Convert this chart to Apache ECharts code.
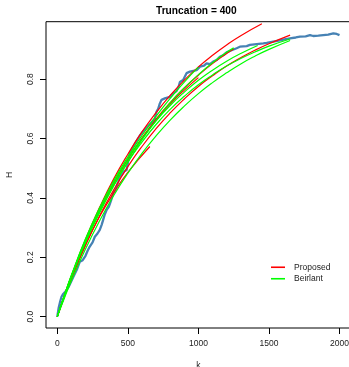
<!DOCTYPE html>
<html>
<head>
<meta charset="utf-8">
<script src="https://cdn.jsdelivr.net/npm/echarts@6/dist/echarts.min.js"></script>
<style>html,body{margin:0;padding:0;background:#fff}#c{width:349px;height:367px}</style>
</head>
<body>
<div id="c"></div>
<script>
const xTicks = [0, 500, 1000, 1500, 2000];
const yTicks = [0, 0.2, 0.4, 0.6, 0.8];

// Empirical estimate (blue)
const empirical = [[0,0],[10,0.03],[20,0.05],[30,0.067],[40,0.075],[60,0.085],[80,0.1],[100,0.12],[120,0.14],[140,0.16],[160,0.185],[180,0.19],[200,0.205],[215,0.222],[230,0.236],[250,0.25],[266,0.269],[285,0.28],[301,0.292],[315,0.31],[325,0.326],[337,0.345],[350,0.36],[365,0.37],[380,0.39],[396,0.415],[410,0.425],[420,0.438],[432,0.455],[443,0.471],[460,0.48],[475,0.49],[491,0.494],[505,0.53],[514,0.55],[538,0.572],[560,0.59],[585,0.61],[610,0.625],[640,0.64],[670,0.655],[690,0.665],[703,0.69],[715,0.7],[727,0.718],[739,0.73],[762,0.735],[774,0.732],[798,0.74],[821,0.752],[845,0.76],[860,0.775],[869,0.79],[892,0.797],[916,0.82],[940,0.825],[965,0.828],[987,0.83],[1011,0.842],[1040,0.845],[1058,0.853],[1082,0.85],[1105,0.859],[1129,0.864],[1152,0.875],[1175,0.88],[1200,0.89],[1235,0.897],[1271,0.904],[1294,0.909],[1342,0.911],[1365,0.915],[1413,0.918],[1460,0.92],[1484,0.922],[1530,0.926],[1578,0.93],[1610,0.934],[1649,0.937],[1690,0.94],[1720,0.943],[1760,0.944],[1791,0.948],[1814,0.945],[1850,0.946],[1885,0.948],[1920,0.95],[1956,0.954],[1980,0.952],[2000,0.948]];

// Proposed (red) curves
const proposed1 = [[0,0],[50,0.071],[100,0.138],[200,0.261],[300,0.368],[400,0.464],[500,0.547],[600,0.622],[700,0.687],[800,0.745],[900,0.796],[1000,0.841],[1100,0.88],[1200,0.915],[1300,0.946],[1450,0.986]];
const proposed2 = [[0,0],[50,0.069],[100,0.134],[200,0.252],[300,0.356],[400,0.449],[500,0.53],[600,0.601],[700,0.665],[800,0.721],[900,0.77],[1000,0.813],[1100,0.852],[1200,0.886],[1250,0.901]];
const proposed3 = [[0,0],[50,0.066],[100,0.128],[200,0.24],[300,0.34],[400,0.427],[500,0.505],[600,0.573],[700,0.633],[800,0.686],[900,0.733],[1000,0.775],[1100,0.811],[1200,0.844],[1300,0.872],[1400,0.897],[1500,0.919],[1650,0.948]];
const proposed4 = [[0,0],[50,0.068],[100,0.131],[200,0.242],[300,0.337],[400,0.417],[500,0.486],[656,0.573]];
const proposed5 = [[0,0],[50,0.07],[100,0.136],[200,0.255],[300,0.359],[400,0.45],[500,0.53],[600,0.6],[700,0.662],[800,0.716],[900,0.763],[1000,0.805]];

// Beirlant (green) curves
const beirlant1 = [[0,0],[50,0.062],[100,0.121],[200,0.228],[300,0.323],[400,0.408],[500,0.483],[600,0.55],[700,0.609],[800,0.662],[900,0.709],[1000,0.751],[1100,0.788],[1200,0.821],[1300,0.851],[1400,0.877],[1500,0.9],[1650,0.93]];
const beirlant2 = [[0,0],[50,0.07],[100,0.135],[200,0.252],[300,0.354],[400,0.443],[500,0.521],[600,0.588],[700,0.647],[800,0.698],[900,0.742],[1000,0.781],[1100,0.814],[1200,0.844],[1300,0.869],[1400,0.891],[1500,0.911],[1650,0.935]];
const beirlant3 = [[0,0],[50,0.07],[100,0.135],[200,0.25],[300,0.35],[400,0.44],[500,0.52],[600,0.595],[700,0.66],[800,0.72],[900,0.77],[1000,0.815],[1100,0.855],[1200,0.89],[1250,0.905]];
const beirlant4 = [[0,0],[50,0.072],[100,0.14],[200,0.262],[300,0.367],[400,0.458],[500,0.538],[600,0.61],[700,0.675],[800,0.735],[900,0.79],[1000,0.84]];
const beirlant5 = [[0,0],[50,0.071],[100,0.137],[200,0.257],[300,0.361],[400,0.452],[500,0.531],[600,0.599],[700,0.659],[800,0.711],[900,0.756],[1000,0.796],[1100,0.83],[1200,0.86],[1300,0.886],[1420,0.913]];

const proposedList = [proposed1, proposed2, proposed3, proposed4, proposed5];
const beirlantList = [beirlant1, beirlant2, beirlant3, beirlant4, beirlant5];

const FONT = 'Liberation Sans, Arial, sans-serif';
const series = [];
series.push({
  name: 'empirical', type: 'line', data: empirical, showSymbol: false, smooth: false,
  lineStyle: { color: '#4682B4', width: 2.3 }, itemStyle: { color: '#4682B4' }, z: 2, silent: true
});
proposedList.forEach(d => series.push({
  name: 'Proposed', type: 'line', data: d, showSymbol: false, smooth: true,
  lineStyle: { color: '#FF0000', width: 1.2 }, itemStyle: { color: '#FF0000' }, z: 3
}));
beirlantList.forEach(d => series.push({
  name: 'Beirlant', type: 'line', data: d, showSymbol: false, smooth: true,
  lineStyle: { color: '#00FF00', width: 1.2 }, itemStyle: { color: '#00FF00' }, z: 4
}));

const chart = echarts.init(document.getElementById('c'), null, { renderer: 'canvas' });
chart.setOption({
  animation: false,
  backgroundColor: '#fff',
  grid: { left: 46, top: 21.7, width: 304.8, height: 306.3, show: true, borderColor: '#000', borderWidth: 1,
    backgroundColor: 'transparent', containLabel: false, outerBoundsMode: 'none' },
  graphic: [
    { type: 'text', left: 198 - 42, top: 6, style: { text: 'Truncation = 400', font: 'bold 10.2px ' + FONT, fill: '#000' } }
  ],
  legend: {
    orient: 'vertical', left: 271, top: 262, padding: 0,
    data: ['Proposed', 'Beirlant'],
    itemWidth: 14, itemHeight: 1.6, itemGap: 1, icon: 'rect',
    textStyle: { fontSize: 8.5, fontFamily: FONT, color: '#222', lineHeight: 10.5, padding: [0, 0, 0, 4] }
  },
  xAxis: {
    type: 'value', min: -80, max: 2080,
    name: 'k', nameLocation: 'middle', nameGap: 33,
    nameTextStyle: { fontSize: 8.5, fontFamily: FONT, color: '#222' },
    axisLine: { show: false, onZero: false },
    axisTick: { show: true, length: 6, customValues: xTicks, lineStyle: { color: '#000' } },
    axisLabel: { show: true, customValues: xTicks, margin: 11, fontSize: 8.5, fontFamily: FONT, color: '#222',
      formatter: v => String(Math.round(v)) },
    splitLine: { show: false }
  },
  yAxis: {
    type: 'value', min: -0.0382, max: 0.9932,
    name: 'H', nameLocation: 'middle', nameGap: 32, nameRotate: 90,
    nameTextStyle: { fontSize: 8.5, fontFamily: FONT, color: '#222' },
    axisLine: { show: false, onZero: false },
    axisTick: { show: true, length: 6, customValues: yTicks, lineStyle: { color: '#000' } },
    axisLabel: { show: true, customValues: yTicks, rotate: 90, margin: 11, fontSize: 8.5, fontFamily: FONT, color: '#222',
      formatter: v => Number(v).toFixed(1) },
    splitLine: { show: false }
  },
  series: series
});
</script>
</body>
</html>
